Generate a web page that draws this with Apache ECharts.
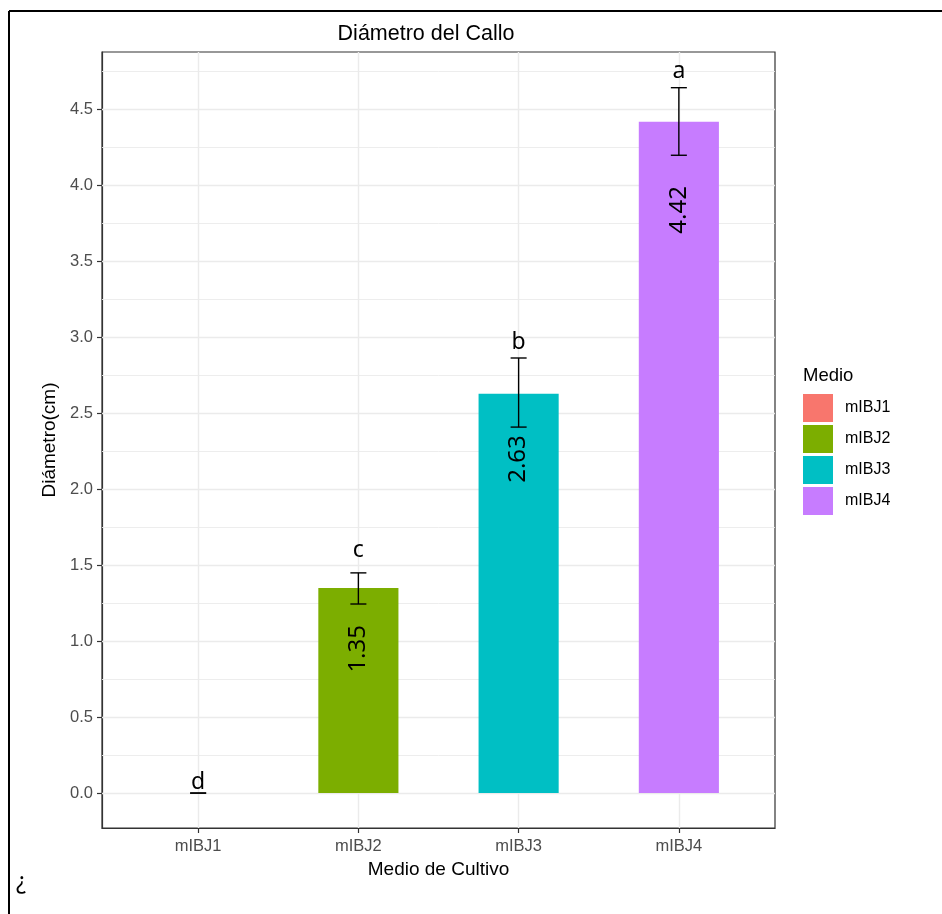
<!DOCTYPE html>
<html>
<head>
<meta charset="utf-8">
<script src="https://cdn.jsdelivr.net/npm/echarts@6/dist/echarts.min.js"></script>
<style>
html,body{margin:0;padding:0;background:#fff;}
#chart{width:942px;height:914px;}
</style>
</head>
<body>
<div id="chart"></div>
<script>
// ---- data ----
const categories = ['mIBJ1', 'mIBJ2', 'mIBJ3', 'mIBJ4'];
const means = [0, 1.35, 2.63, 4.42];
const lower = [0, 1.245, 2.41, 4.20];
const upper = [0, 1.45, 2.865, 4.645];
const letters = ['d', 'c', 'b', 'a'];
const letterY = [0.026, 1.555, 2.925, 4.71];   // baseline of letter (data units)
const valueLabelY = [null, 0.95, 2.2, 3.84]; // centre of rotated value label (data units)
const yMajor = [0, 0.5, 1.0, 1.5, 2.0, 2.5, 3.0, 3.5, 4.0, 4.5];
const yMinor = [0.25, 0.75, 1.25, 1.75, 2.25, 2.75, 3.25, 3.75, 4.25, 4.75];
const xPositions = [1, 2, 3, 4];
const colors = ['#F8766D', '#7CAE00', '#00BFC4', '#C77CFF'];

const chart = echarts.init(document.getElementById('chart'), null, {renderer: 'canvas'});

function makeSeries(i) {
  return {
    type: 'custom',
    name: categories[i],
    z: 10,
    itemStyle: {color: colors[i]},
    data: [[xPositions[i], means[i], lower[i], upper[i], letterY[i], valueLabelY[i] == null ? 0 : valueLabelY[i]]],
    encode: {x: 0, y: [1, 2, 3]},
    renderItem: function (params, api) {
      const x = api.value(0), m = api.value(1), lo = api.value(2), hi = api.value(3);
      const base = api.coord([x, 0]);
      const top = api.coord([x, m]);
      const bw = api.size([0.5, 0])[0];
      const cw = api.size([0.1, 0])[0];
      const pLo = api.coord([x, lo]);
      const pHi = api.coord([x, hi]);
      const children = [];
      if (m > 0) {
        children.push({type: 'rect', shape: {x: base[0] - bw / 2, y: top[1], width: bw, height: base[1] - top[1]},
          style: {fill: colors[i]}});
      }
      const ls = {stroke: '#000', lineWidth: 1.4};
      children.push({type: 'line', shape: {x1: pLo[0], y1: pLo[1], x2: pHi[0], y2: pHi[1]}, style: ls});
      children.push({type: 'line', shape: {x1: pLo[0] - cw / 2, y1: pLo[1], x2: pLo[0] + cw / 2, y2: pLo[1]}, style: ls});
      children.push({type: 'line', shape: {x1: pHi[0] - cw / 2, y1: pHi[1], x2: pHi[0] + cw / 2, y2: pHi[1]}, style: ls});
      const lp = api.coord([x, api.value(4)]);
      children.push({type: 'text', x: lp[0], y: lp[1] + 5,
        style: {text: letters[i], fill: '#000', font: '23px "Noto Sans"', align: 'center', verticalAlign: 'bottom'}});
      if (m > 0) {
        const vp = api.coord([x, api.value(5)]);
        children.push({type: 'text', x: vp[0], y: vp[1], rotation: Math.PI / 2,
          style: {text: means[i].toFixed(2), fill: '#000', font: '24px "Noto Sans"', align: 'center', verticalAlign: 'middle'}});
      }
      return {type: 'group', children: children};
    }
  };
}

const gridLineSeries = {
  type: 'line',
  name: '_grid',
  data: [],
  z: 1,
  silent: true,
  markLine: {
    silent: true,
    z: 1,
    symbol: 'none',
    label: {show: false},
    animation: false,
    data: [
      ...yMinor.map(v => ({yAxis: v, lineStyle: {color: '#EBEBEB', width: 0.9, type: 'solid'}})),
      ...yMajor.map(v => ({yAxis: v, lineStyle: {color: '#EBEBEB', width: 1.4, type: 'solid'}})),
      ...xPositions.map(v => ({xAxis: v, lineStyle: {color: '#EBEBEB', width: 1.4, type: 'solid'}}))
    ]
  }
};

const option = {
  animation: false,
  backgroundColor: '#fff',
  title: [
    {text: 'Diámetro del Callo', left: 426, top: 23, textAlign: 'center', padding: 0,
      textStyle: {fontFamily: 'Liberation Sans', fontSize: 21.5, fontWeight: 'normal', color: '#000'}},
    {text: 'Medio', left: 803, top: 366, padding: 0,
      textStyle: {fontFamily: 'Liberation Sans', fontSize: 18.5, fontWeight: 'normal', color: '#000'}},
    {text: '¿', left: 16, top: 871, padding: 0,
      textStyle: {fontFamily: 'Noto Sans', fontSize: 23, fontWeight: 'normal', color: '#000'}}
  ],
  legend: {
    data: categories,
    orient: 'vertical',
    left: 803,
    top: 394,
    padding: 0,
    itemWidth: 30,
    itemHeight: 28,
    itemGap: 3,
    icon: 'rect',
    selectedMode: false,
    textStyle: {fontFamily: 'Liberation Sans', fontSize: 16, color: '#000', padding: [0, 0, 0, 7]}
  },
  grid: {left: 102, right: 167, top: 52, bottom: 86, show: true, borderColor: '#333', borderWidth: 1.2,
    backgroundColor: 'transparent', containLabel: false},
  xAxis: {
    type: 'value', min: 0.4, max: 4.6,
    name: 'Medio de Cultivo', nameLocation: 'middle', nameGap: 29,
    nameTextStyle: {fontFamily: 'Liberation Sans', fontSize: 19, color: '#000'},
    axisLine: {show: true, onZero: false, lineStyle: {color: '#333', width: 1.2}},
    axisTick: {show: true, customValues: xPositions, length: 5, lineStyle: {color: '#333', width: 1.2}},
    axisLabel: {show: true, customValues: xPositions, margin: 10,
      formatter: v => categories[Math.round(v) - 1] || '',
      fontFamily: 'Liberation Sans', fontSize: 16.5, color: '#4D4D4D'},
    splitLine: {show: false}
  },
  yAxis: {
    type: 'value', min: -0.23, max: 4.88,
    name: 'Diámetro(cm)', nameLocation: 'middle', nameGap: 33,
    nameTextStyle: {fontFamily: 'Liberation Sans', fontSize: 19, color: '#000'},
    axisLine: {show: true, onZero: false, lineStyle: {color: '#333', width: 1.2}},
    axisTick: {show: true, customValues: yMajor, length: 5, lineStyle: {color: '#333', width: 1.2}},
    axisLabel: {show: true, customValues: yMajor, margin: 9,
      formatter: v => Number(v).toFixed(1),
      fontFamily: 'Liberation Sans', fontSize: 16.5, color: '#4D4D4D'},
    splitLine: {show: false}
  },
  graphic: [
    {type: 'line', shape: {x1: 9, y1: 11, x2: 942, y2: 11}, style: {stroke: '#000', lineWidth: 2}},
    {type: 'line', shape: {x1: 9, y1: 11, x2: 9, y2: 914}, style: {stroke: '#000', lineWidth: 2}}
  ],
  series: [gridLineSeries, ...categories.map((c, i) => makeSeries(i))]
};
chart.setOption(option);
</script>
</body>
</html>
